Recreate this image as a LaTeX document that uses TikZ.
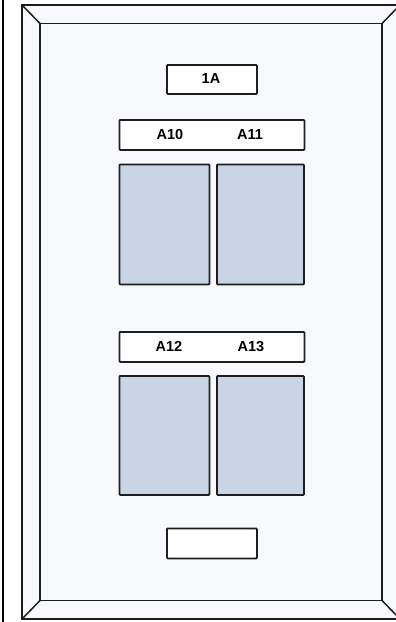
\documentclass[tikz,border=0pt]{standalone}
\usepackage{fontspec}
\setmainfont{Liberation Sans}
\definecolor{plate}{HTML}{F8F9FC}
\definecolor{slot}{HTML}{C9D5E4}
\definecolor{edge}{HTML}{1E1E1E}
\begin{document}
\begin{tikzpicture}[x=1pt,y=-1pt,
  plateline/.style={draw=edge,line width=1.5pt,line join=miter},
  labelbox/.style={draw=edge,line width=1.8pt,fill=white,rounded corners=0.8pt,
    inner sep=0pt,anchor=north west},
  slotbox/.style={draw=edge,line width=1.8pt,fill=slot,rounded corners=0.8pt,
    inner sep=0pt,anchor=north west,minimum width=90pt,minimum height=120pt},
  tag/.style={font=\bfseries\fontsize{14.5}{16}\selectfont,inner sep=0pt,
    text height=10.4pt,text depth=0pt}]
\useasboundingbox (0,0) rectangle (396,622);
\fill[white] (0,0) rectangle (396,622);
% left edge rule
\draw[black,line width=2pt] (3,0) -- (3,622);
% bevelled wall plate
\coordinate (o1) at (22,5);   \coordinate (o2) at (400,5);
\coordinate (o3) at (400,619); \coordinate (o4) at (22,619);
\coordinate (i1) at (40,23.5); \coordinate (i2) at (382,23.5);
\coordinate (i3) at (382,600.5); \coordinate (i4) at (40,600.5);
\filldraw[plateline,fill=plate] (o1) -- (o2) -- (o3) -- (o4) -- cycle;
\filldraw[plateline,fill=plate] (i1) -- (i2) -- (i3) -- (i4) -- cycle;
\draw[plateline] (o1) -- (i1) (o2) -- (i2) (o3) -- (i3) (o4) -- (i4);
% top label
\node[labelbox,minimum width=90pt,minimum height=29pt] (t1a) at (166,64) {};
\node[tag] (l1a) at (211,78.5) {1A};
% upper pair
\node[labelbox,minimum width=185pt,minimum height=30pt] (bar1) at (118.5,119) {};
\node[tag] (la10) at (170,134) {A10};
\node[tag] (la11) at (250,134) {A11};
\node[slotbox] (s10) at (118.5,163.5) {};
\node[slotbox,minimum width=87pt] (s11) at (216,163.5) {};
% lower pair
\node[labelbox,minimum width=185pt,minimum height=30pt] (bar2) at (118.5,331) {};
\node[tag] (la12) at (169,346) {A12};
\node[tag] (la13) at (251,346) {A13};
\node[slotbox,minimum height=119pt] (s12) at (118.5,375) {};
\node[slotbox,minimum width=87pt,minimum height=119pt] (s13) at (216,375) {};
% blank label
\node[labelbox,minimum width=90pt,minimum height=30pt] (blank) at (166,527.5) {};
\end{tikzpicture}
\end{document}
